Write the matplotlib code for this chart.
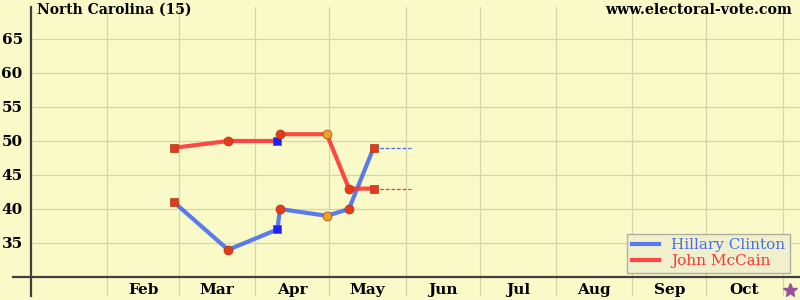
import pandas as pd
import matplotlib
matplotlib.use('Agg')
import matplotlib.pyplot as plt

# Poll dates and values
dates = pd.to_datetime(['2008-02-28', '2008-03-21', '2008-04-10', '2008-04-11',
                        '2008-04-30', '2008-05-09', '2008-05-19'])
clinton = [41, 34, 37, 40, 39, 40, 49]
mccain = [49, 50, 50, 51, 51, 43, 43]
marker_shape = ['s', 'o', 's', 'o', 'o', 'o', 's']
marker_color = ['#e83818', '#e83818', '#2020f0', '#e83818', '#f0a020', '#e83818', '#e83818']
extend_to = pd.Timestamp('2008-06-03')
election_day = pd.Timestamp('2008-11-04')

months = ['Feb', 'Mar', 'Apr', 'May', 'Jun', 'Jul', 'Aug', 'Sep', 'Oct']
month_starts = pd.date_range('2008-02-01', '2008-11-01', freq='MS')
yticks = [35, 40, 45, 50, 55, 60, 65]

bg = '#fafac8'
blue = '#4a6cf0'
red = '#ff3434'
plt.rcParams['font.family'] = ['DejaVu Serif']
plt.rcParams['font.weight'] = 'bold'

fig = plt.figure(figsize=(8, 3), dpi=100, facecolor=bg)
ax = fig.add_axes([31 / 800, 4 / 300, 769 / 800, 289 / 300])
ax.set_facecolor(bg)
ax.set_xlim(pd.Timestamp('2008-01-01'), pd.Timestamp('2008-11-08'))
ax.set_ylim(30 - 19 / 6.8, 30 + 270 / 6.8)

for s in ['top', 'right', 'bottom']:
    ax.spines[s].set_visible(False)
ax.spines['left'].set_color('#404040')
ax.spines['left'].set_linewidth(1.6)

# grid
for y in yticks:
    ax.axhline(y, color='#d4d4b0', lw=0.9, zorder=0)
for d in month_starts:
    ax.axvline(d, color='#d4d4b0', lw=0.9, zorder=0)
ax.axhline(30, xmin=-18 / 769, xmax=1, color='#404040', lw=1.6, clip_on=False, zorder=1)

ax.set_yticks(yticks)
ax.set_yticklabels([str(y) for y in yticks], fontsize=11)
ax.tick_params(axis='y', length=0, pad=6)
ax.set_xticks([])

for i, m in enumerate(months):
    mid = month_starts[i] + (month_starts[i + 1] - month_starts[i]) / 2
    ax.text(mid, 28.1, m, ha='center', va='center', fontsize=11)

# lines
ax.plot(dates, clinton, color=blue, lw=3, alpha=0.9, zorder=2, label='Hillary Clinton')
ax.plot(dates, mccain, color=red, lw=3, alpha=0.9, zorder=2, label='John McCain')
ax.plot([dates[-1], extend_to], [clinton[-1]] * 2, color=blue, lw=0.9, ls=(0, (3, 1.5)), zorder=2)
ax.plot([dates[-1], extend_to], [mccain[-1]] * 2, color=red, lw=0.9, ls=(0, (3, 1.5)), zorder=2)

for d, c, m, mk, col in zip(dates, clinton, mccain, marker_shape, marker_color):
    ms = 5.5 if mk == 's' else 6.5
    ax.plot([d, d], [c, m], ls='none', marker=mk, ms=ms, mfc=col, mec='#a04020', mew=0.5, zorder=3)

ax.plot(election_day, 28.1, marker='*', ms=10, color='#9a50a0', clip_on=False, zorder=3)

fig.text(37 / 800, 1 - 10 / 300, 'North Carolina (15)', ha='left', va='center', fontsize=10)
fig.text(792 / 800, 1 - 10 / 300, 'www.electoral-vote.com', ha='right', va='center', fontsize=10.2)

leg = ax.legend(loc='lower right', bbox_to_anchor=(1 - 10 / 769, 23 / 289), fontsize=11,
                frameon=True, fancybox=False, framealpha=1, facecolor='#f0f0cc',
                edgecolor='#b0b0a0', handlelength=1.8, borderpad=0.3, labelspacing=0.15,
                handletextpad=0.8, borderaxespad=0)
for t, c in zip(leg.get_texts(), [blue, red]):
    t.set_color(c)
    t.set_fontweight('normal')

fig.savefig('out.png', dpi=100, facecolor=bg)
